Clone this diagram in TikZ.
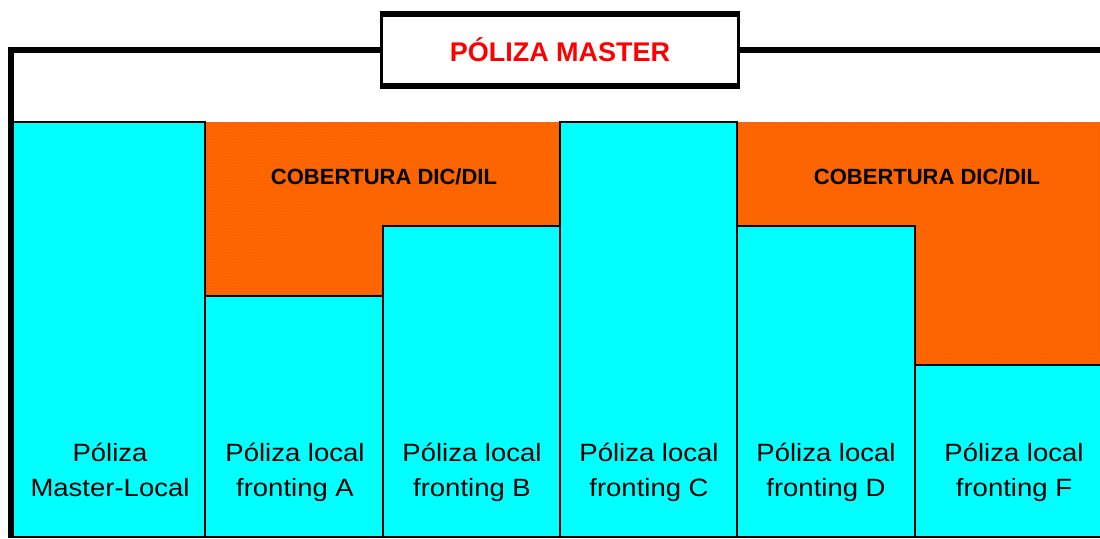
\documentclass[tikz,border=0pt]{standalone}
\usepackage{fontspec}
\setmainfont{Liberation Sans}
\newfontfamily\colfont[FakeStretch=1.1]{Liberation Sans}
\usetikzlibrary{patterns}
\definecolor{polcyan}{RGB}{0,255,255}
\definecolor{dicorange}{RGB}{255,102,0}

\begin{document}
\begin{tikzpicture}[x=1pt, y=-1pt,
    colbox/.style={fill=polcyan, draw=black, line width=2.5pt},
    coltext/.style={align=center, inner sep=0pt, anchor=base, font=\colfont\fontsize{25}{35}\selectfont},
    dictext/.style={font=\bfseries\fontsize{22}{26}\selectfont},
    frame/.style={line width=6pt}]
    \useasboundingbox (0,0) rectangle (1100,538);

    % cobertura dic/dil
    \fill[dicorange] (205,122) rectangle (560,300);
    \fill[dicorange] (737,122) rectangle (1104,370);
    \fill[pattern=dots, pattern color=black, opacity=0.15] (205,122) rectangle (560,300);
    \fill[pattern=dots, pattern color=black, opacity=0.15] (737,122) rectangle (1104,370);
    \node[dictext] (dic1) at (384,177) {COBERTURA DIC/DIL};
    \node[dictext] (dic2) at (927,177) {COBERTURA DIC/DIL};

    % polizas locales
    \draw[colbox] (11,122) rectangle (205,537);
    \draw[colbox] (205,296) rectangle (383,537);
    \draw[colbox] (383,226) rectangle (560,537);
    \draw[colbox] (560,122) rectangle (737,537);
    \draw[colbox] (737,226) rectangle (915,537);
    \draw[colbox] (915,365) rectangle (1106,537);

    \node[coltext] (ml) at (110,496) {Póliza\\Master-Local};
    \node[coltext] (fa) at (295,496) {Póliza local\\fronting A};
    \node[coltext] (fb) at (472,496) {Póliza local\\fronting B};
    \node[coltext] (fc) at (649,496) {Póliza local\\fronting C};
    \node[coltext] (fd) at (826,496) {Póliza local\\fronting D};
    \node[coltext] (ff) at (1014,496) {Póliza local\\fronting F};

    % poliza master
    \node[draw, fill=white, line width=3pt, minimum width=357pt, minimum height=75pt,
        text=red, font=\bfseries\fontsize{27}{32}\selectfont] (master) at (560,50) {PÓLIZA MASTER};
    \draw[frame] (380,14) -- (740,14);
    \draw[frame] (380,86) -- (740,86);
    \draw[frame] (11,538) -- (11,50) -- (master.west);
    \draw[frame] (master.east) -- (1104,50);
\end{tikzpicture}
\end{document}
